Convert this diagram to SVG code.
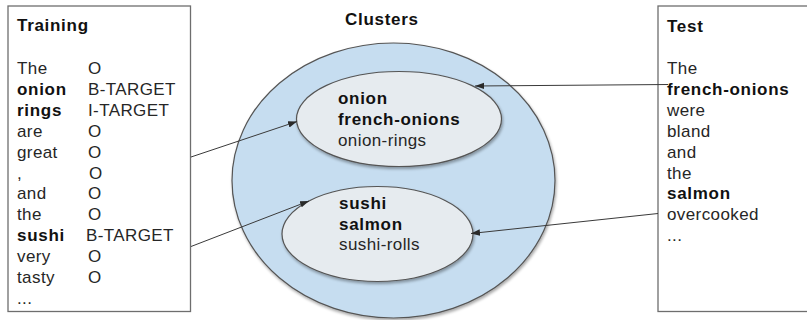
<svg xmlns="http://www.w3.org/2000/svg" width="807" height="320" viewBox="0 0 807 320">
<defs>
<style>
text{font-family:"Liberation Sans",Arial,sans-serif;font-size:17px;fill:#262626;letter-spacing:0.4px}
.b{font-weight:bold;fill:#111;letter-spacing:0.7px}
.h{font-weight:bold;fill:#111;font-size:17px;letter-spacing:0.7px}
.box{fill:#fff;stroke:#6e6e6e;stroke-width:1.3}
.conn{stroke:#3a3a3a;stroke-width:1;fill:none;marker-end:url(#ah)}
</style>
<marker id="ah" markerWidth="10" markerHeight="8" refX="9" refY="4" orient="auto" markerUnits="userSpaceOnUse">
<path d="M0,0.8 L9,4 L0,7.2 z" fill="#2a2a2a"/>
</marker>
<filter id="sh" x="-10%" y="-10%" width="125%" height="130%">
<feGaussianBlur in="SourceAlpha" stdDeviation="1.5"/>
<feOffset dx="1" dy="2" result="o"/>
<feComponentTransfer><feFuncA type="linear" slope="0.35"/></feComponentTransfer>
<feMerge><feMergeNode/><feMergeNode in="SourceGraphic"/></feMerge>
</filter>
</defs>
<rect width="807" height="320" fill="#fff"/>

<g id="training">
<rect class="box" x="8" y="6" width="182.5" height="305.5"/>
<text class="h" x="17" y="31">Training</text>
<text x="17" y="74">The</text><text x="88" y="74">O</text>
<text class="b" x="17" y="94.9">onion</text><text x="88" y="94.9">B-TARGET</text>
<text class="b" x="17" y="115.8">rings</text><text x="88" y="115.8">I-TARGET</text>
<text x="17" y="136.7">are</text><text x="88" y="136.7">O</text>
<text x="17" y="157.6">great</text><text x="88" y="157.6">O</text>
<text x="17" y="178.5">,</text><text x="89" y="178.5">O</text>
<text x="17" y="199.4">and</text><text x="88" y="199.4">O</text>
<text x="17" y="220.3">the</text><text x="88" y="220.3">O</text>
<text class="b" x="17" y="241.2">sushi</text><text x="86" y="241.2">B-TARGET</text>
<text x="17" y="262.1">very</text><text x="88" y="262.1">O</text>
<text x="17" y="283">tasty</text><text x="88" y="283">O</text>
<text x="17" y="303.9">...</text>
</g>

<g id="clusters">
<text class="h" x="345" y="24.5">Clusters</text>
<ellipse cx="393.5" cy="180.5" rx="161.5" ry="137.5" fill="#c6ddf0" stroke="#555" stroke-width="1.2" filter="url(#sh)"/>
</g>

<g id="cluster-onion">
<ellipse cx="399" cy="119" rx="102.5" ry="47.5" fill="#e6ebef" stroke="#555" stroke-width="1.2" filter="url(#sh)"/>
<text class="b" x="338" y="104.3">onion</text>
<text class="b" x="338" y="125.3">french-onions</text>
<text x="338" y="146.3">onion-rings</text>
</g>

<g id="cluster-sushi">
<ellipse cx="377.5" cy="234" rx="95.5" ry="47.5" fill="#e6ebef" stroke="#555" stroke-width="1.2" filter="url(#sh)"/>
<text class="b" x="339" y="209">sushi</text>
<text class="b" x="339" y="229.5">salmon</text>
<text x="339" y="250">sushi-rolls</text>
</g>

<g id="test">
<rect class="box" x="658" y="6" width="160" height="305.5"/>
<text class="h" x="667" y="31.5">Test</text>
<text x="667" y="74">The</text>
<text class="b" x="667" y="94.9">french-onions</text>
<text x="667" y="115.8">were</text>
<text x="667" y="136.7">bland</text>
<text x="667" y="157.6">and</text>
<text x="667" y="178.5">the</text>
<text class="b" x="667" y="199.4">salmon</text>
<text x="667" y="220.3">overcooked</text>
<text x="667" y="241.2">...</text>
</g>

<g id="connectors">
<line class="conn" x1="191" y1="157" x2="297" y2="121.5"/>
<line class="conn" x1="191" y1="246.5" x2="309" y2="201"/>
<line class="conn" x1="668" y1="84.5" x2="475" y2="86"/>
<line class="conn" x1="658" y1="213.5" x2="471" y2="233.5"/>
</g>
</svg>
